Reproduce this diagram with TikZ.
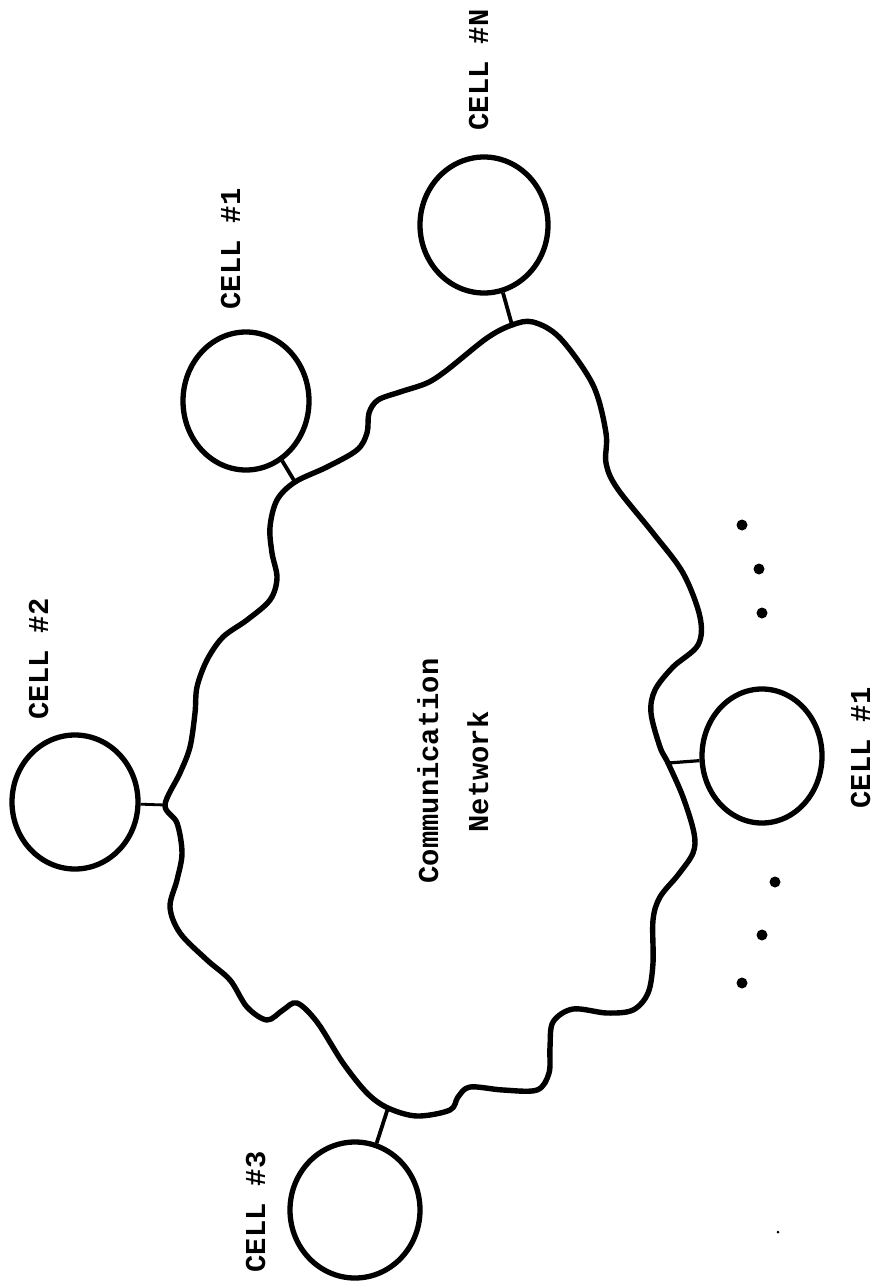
\documentclass[tikz,border=0pt]{standalone}
\usepackage{fontspec}
\setmonofont{Liberation Mono}
\usetikzlibrary{shapes.geometric}
\tikzset{
  cellnode/.style={ellipse, draw, line width=5.3pt, inner sep=0pt},
  cloudline/.style={line width=5.4pt, line join=round},
  linkline/.style={line width=3.8pt},
  lbl/.style={rotate=90, anchor=base, inner sep=0pt, font=\ttfamily\bfseries\fontsize{28.8}{34}\selectfont},
  dotmark/.style={fill=black}
}
\begin{document}
\begin{tikzpicture}[x=1pt,y=-1pt]
\useasboundingbox (0,0) rectangle (876,1284);
\fill[white] (0,0) rectangle (876,1284);

% cloud
\draw[cloudline] plot[smooth cycle, tension=0.55] coordinates {
(295,482) (327,467) (357,450) (367,433) (369,413) (378,400) (400,392) (427,383)
(447,370) (487,338) (512,325) (533,322) (560,338) (593,385) (606,433) (606,463)
(617,488) (653,533) (683,573) (700,617) (698,645) (673,667) (655,690) (651,713)
(660,747) (668,763) (683,797) (694,833) (693,853) (678,875) (660,897) (653,920)
(653,963) (648,993) (633,1010) (607,1013) (573,1009) (553,1022) (550,1047)
(549,1073) (537,1090) (503,1090) (470,1087) (458,1097) (450,1110) (417,1116)
(388,1108) (367,1093) (343,1063) (317,1022) (297,1003) (283,1010) (267,1020)
(247,1007) (230,980) (207,960) (180,933) (170,907) (177,880) (182,853) (177,823)
(165,805) (180,773) (190,747) (195,713) (197,687) (207,660) (223,637) (247,620)
(270,600) (277,578) (272,553) (270,527) (277,500)};

% junctions on the cloud
\coordinate (jN) at (512,325);
\coordinate (jA) at (295,482);
\coordinate (jB) at (165,805);
\coordinate (jC) at (388,1108);
\coordinate (jR) at (668,763);

% cells
\node[cellnode, minimum width=128pt, minimum height=136pt] (cellN) at (484,225) {};
\node[cellnode, minimum width=126pt, minimum height=138pt] (cellA) at (246,401) {};
\node[cellnode, minimum width=126pt, minimum height=134pt] (cellB) at (75,802) {};
\node[cellnode, minimum width=130pt, minimum height=136pt] (cellC) at (355,1210) {};
\node[cellnode, minimum width=120pt, minimum height=134pt] (cellR) at (762,756) {};

% links
\draw[linkline] (jN) -- (cellN);
\draw[linkline] (jA) -- (cellA);
\draw[line width=2.8pt] (jB) -- (cellB);
\draw[linkline] (jC) -- (cellC);
\draw[line width=3.2pt] (jR) -- (cellR);

% labels
\node[lbl] (tN) at (488,70) {CELL \#N};
\node[lbl] (tA) at (240,249) {CELL \#1};
\node[lbl] (tB) at (48,659) {CELL \#2};
\node[lbl] (tC) at (265,1212) {CELL \#3};
\node[lbl] (tR) at (870,748) {CELL \#1};

\node[lbl] (com) at (438,771) {Communication};
\node[lbl] (net) at (488,772) {Network};

% ellipsis dots
\fill[dotmark] (742,525) circle (5.5pt);
\fill[dotmark] (759,569) circle (5.5pt);
\fill[dotmark] (762,613) circle (5.5pt);
\fill[dotmark] (775,882) circle (5.5pt);
\fill[dotmark] (762,935) circle (5.5pt);
\fill[dotmark] (742,983) circle (5.5pt);
\fill[dotmark] (778,1232) circle (1.5pt);
\end{tikzpicture}
\end{document}
